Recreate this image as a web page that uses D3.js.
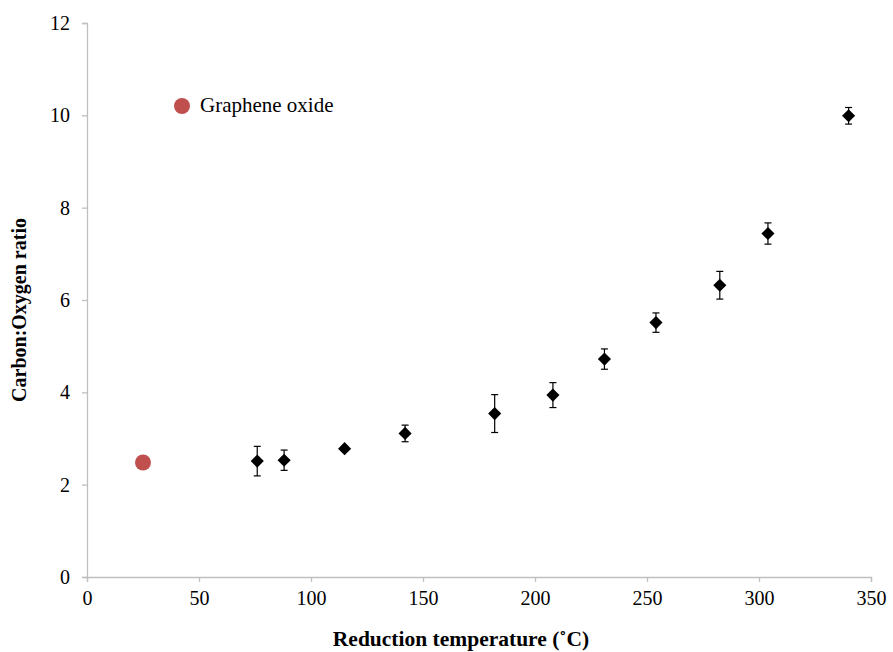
<!DOCTYPE html>
<html>
<head>
<meta charset="utf-8">
<script src="https://cdn.jsdelivr.net/npm/d3@7"></script>
<style>
  body { margin: 0; background: #fff; }
  svg text { font-family: "Liberation Serif", "Times New Roman", serif; }
</style>
</head>
<body>
<div id="chart"></div>
<script>
// reduced samples: temperature (C), C:O ratio, error (+/-)
var temps  = [76, 88, 115, 142, 182, 208, 231, 254, 282.5, 304, 340];
var ratios = [2.51, 2.53, 2.78, 3.11, 3.54, 3.94, 4.72, 5.51, 6.32, 7.44, 9.99];
var errs   = [0.32, 0.22, 0.05, 0.18, 0.41, 0.27, 0.22, 0.21, 0.30, 0.23, 0.18];

// graphene oxide reference point
var goTemp = [25];
var goRatio = [2.48];

var xTicks = [0, 50, 100, 150, 200, 250, 300, 350];
var yTicks = [0, 2, 4, 6, 8, 10, 12];

var W = 893, H = 652;
var margin = { top: 23, right: 22, bottom: 75, left: 87 };

var svg = d3.select("#chart").append("svg")
    .attr("width", W)
    .attr("height", H);

var x = d3.scaleLinear().domain([0, 350]).range([margin.left, W - margin.right]);
var y = d3.scaleLinear().domain([0, 12]).range([H - margin.bottom, margin.top]);

var axisColor = "#bfbfbf";

// x axis
var gx = svg.append("g")
    .attr("transform", "translate(0," + y(0) + ")")
    .call(d3.axisBottom(x).tickValues(xTicks).tickSize(5).tickPadding(9));
// y axis
var gy = svg.append("g")
    .attr("transform", "translate(" + x(0) + ",0)")
    .call(d3.axisLeft(y).tickValues(yTicks).tickSize(5).tickPadding(12));

[gx, gy].forEach(function(g) {
    g.attr("font-family", null);
    g.select(".domain").attr("stroke", axisColor).attr("stroke-width", 1.3);
    g.selectAll(".tick line").attr("stroke", axisColor).attr("stroke-width", 1.3);
    g.selectAll(".tick text")
        .attr("fill", "#000")
        .style("font-size", "20px");
});

// error bars
var data = temps.map(function(t, i) { return { t: t, r: ratios[i], e: errs[i] }; });
var eb = svg.append("g").attr("stroke", "#000").attr("stroke-width", 1.2);
data.forEach(function(d) {
    var cx = x(d.t);
    eb.append("line").attr("x1", cx).attr("x2", cx).attr("y1", y(d.r + d.e)).attr("y2", y(d.r - d.e));
    eb.append("line").attr("x1", cx - 3.5).attr("x2", cx + 3.5).attr("y1", y(d.r + d.e)).attr("y2", y(d.r + d.e));
    eb.append("line").attr("x1", cx - 3.5).attr("x2", cx + 3.5).attr("y1", y(d.r - d.e)).attr("y2", y(d.r - d.e));
});

// diamonds
var diamond = d3.symbol().type(d3.symbolDiamond2).size(110);
svg.append("g").selectAll("path")
    .data(data)
    .enter().append("path")
    .attr("d", diamond)
    .attr("transform", function(d) { return "translate(" + x(d.t) + "," + y(d.r) + ")"; })
    .attr("fill", "#000");

// graphene oxide
var red = "#c0504d";
svg.append("g").selectAll("circle")
    .data(goTemp)
    .enter().append("circle")
    .attr("cx", function(d) { return x(d); })
    .attr("cy", function(d, i) { return y(goRatio[i]); })
    .attr("r", 8)
    .attr("fill", red);

// legend
svg.append("circle").attr("cx", 182).attr("cy", 106).attr("r", 8).attr("fill", red);
svg.append("text").attr("x", 200).attr("y", 112)
    .style("font-size", "21px")
    .text("Graphene oxide");

// axis titles
svg.append("text")
    .attr("x", 461).attr("y", 646)
    .attr("text-anchor", "middle")
    .style("font-size", "21.5px")
    .style("font-weight", "bold")
    .text("Reduction temperature (˚C)");

svg.append("text")
    .attr("transform", "translate(26,310) rotate(-90)")
    .attr("text-anchor", "middle")
    .style("font-size", "20px")
    .style("font-weight", "bold")
    .text("Carbon:Oxygen ratio");
</script>
</body>
</html>
